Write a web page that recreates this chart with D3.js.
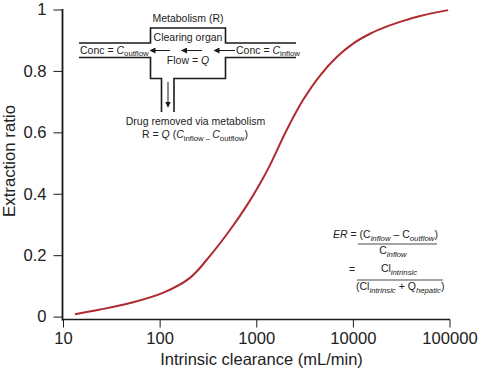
<!DOCTYPE html>
<html>
<head>
<meta charset="utf-8">
<script src="https://cdn.jsdelivr.net/npm/d3@7"></script>
<style>
body { margin: 0; background: #fff; }
svg { display: block; }
text { font-family: "Liberation Sans", Arial, sans-serif; fill: #222; }
</style>
</head>
<body>
<div id="chart"></div>
<script>
const clearance = [13.3, 24.2, 49.4, 108, 206, 332, 535, 803, 1148, 1390, 2084, 3048, 4571, 6855, 10050, 15070, 22590, 33110, 49660, 96800];
const extraction = [0.008, 0.023, 0.044, 0.077, 0.126, 0.198, 0.282, 0.363, 0.445, 0.494, 0.61, 0.705, 0.785, 0.846, 0.889, 0.921, 0.945, 0.963, 0.979, 0.998];
const xTicks = [10, 100, 1000, 10000, 100000];
const yTicks = [0, 0.2, 0.4, 0.6, 0.8, 1];

const width = 478, height = 371;
const ink = "#1a1a1a";

const svg = d3.select("#chart").append("svg")
    .attr("width", width)
    .attr("height", height);

const xScale = d3.scaleLog().domain([10, 100000]).range([63, 449.5]);
const yScale = d3.scaleLinear().domain([0, 1]).range([316.6, 9.5]);

// axes
const xAxis = svg.append("g")
    .attr("transform", "translate(0,319.5)")
    .call(d3.axisBottom(xScale).tickValues(xTicks).tickFormat(d3.format("d")).tickSize(8).tickPadding(5));
const yAxis = svg.append("g")
    .attr("transform", "translate(62.5,0)")
    .call(d3.axisLeft(yScale).tickValues(yTicks).tickFormat(d => d).tickSize(9).tickPadding(7));

[xAxis, yAxis].forEach(a => {
    a.select(".domain").remove();
    a.selectAll("line").attr("stroke", ink).attr("stroke-width", 1);
    a.selectAll("text").attr("font-size", 16.6).attr("font-family", null).attr("fill", "#222");
});

svg.append("line").attr("x1", 62.5).attr("x2", 62.5).attr("y1", 9).attr("y2", 320.5)
    .attr("stroke", ink).attr("stroke-width", 1.8);
svg.append("line").attr("x1", 62).attr("x2", 450).attr("y1", 319.5).attr("y2", 319.5)
    .attr("stroke", ink).attr("stroke-width", 1.6);

svg.append("text").attr("x", 261.5).attr("y", 365).attr("text-anchor", "middle")
    .attr("font-size", 16.5).text("Intrinsic clearance (mL/min)");
svg.append("text").attr("transform", "translate(15,161) rotate(-90)").attr("text-anchor", "middle")
    .attr("font-size", 16.8).text("Extraction ratio");

// curve
const line = d3.line()
    .x(d => xScale(d[0]))
    .y(d => yScale(d[1]))
    .curve(d3.curveCatmullRom.alpha(0.5));

svg.append("path")
    .datum(d3.zip(clearance, extraction))
    .attr("d", line)
    .attr("fill", "none")
    .attr("stroke", "#b02a30")
    .attr("stroke-width", 2);

// text with sub/italic runs: [string, italic, sub]
function richText(x, y, anchor, size, runs) {
    const t = svg.append("text").attr("x", x).attr("y", y)
        .attr("text-anchor", anchor).attr("font-size", size);
    let wasSub = false;
    runs.forEach(([s, italic, sub]) => {
        const span = t.append("tspan").text(s).attr("xml:space", "preserve");
        if (italic) span.attr("font-style", "italic");
        if (sub) span.attr("font-size", size * 0.74);
        const dy = (sub ? 2.5 : 0) - (wasSub ? 2.5 : 0);
        if (dy) span.attr("dy", dy);
        wasSub = !!sub;
    });
    return t;
}

// schematic of the clearing organ
const pipe = d3.line();
const walls = [
    [[79, 43], [150.5, 43], [150.5, 28], [225.5, 28], [225.5, 43], [296, 43]],
    [[79, 57.5], [150.5, 57.5], [150.5, 78.5], [161.5, 78.5], [161.5, 112]],
    [[174, 112], [174, 78.5], [225.5, 78.5], [225.5, 57.5], [296, 57.5]]
];
svg.selectAll(".wall").data(walls).join("path")
    .attr("class", "wall")
    .attr("d", pipe)
    .attr("fill", "none")
    .attr("stroke", ink)
    .attr("stroke-width", 1.6);

const arrowHead = svg.append("defs").append("marker")
    .attr("id", "head").attr("viewBox", "0 0 6 6").attr("refX", 5.5).attr("refY", 3)
    .attr("markerWidth", 6).attr("markerHeight", 6).attr("markerUnits", "userSpaceOnUse")
    .attr("orient", "auto");
arrowHead.append("path").attr("d", "M0,0L6,3L0,6Z").attr("fill", ink);

const arrows = [
    [170, 50.5, 150, 50.5],
    [202, 50.5, 181.5, 50.5],
    [235, 50.5, 214, 50.5],
    [168, 82, 168, 107]
];
svg.selectAll(".arrow").data(arrows).join("line")
    .attr("class", "arrow")
    .attr("x1", d => d[0]).attr("y1", d => d[1])
    .attr("x2", d => d[2]).attr("y2", d => d[3])
    .attr("stroke", ink)
    .attr("stroke-width", 1)
    .attr("marker-end", "url(#head)");

richText(188, 22, "middle", 10.5, [["Metabolism (R)"]]);
richText(188, 41, "middle", 10.5, [["Clearing organ"]]);
richText(80, 53.5, "start", 10.5, [["Conc = "], ["C", true], ["outflow", false, true]]);
richText(236, 53.5, "start", 10.5, [["Conc = "], ["C", true], ["inflow", false, true]]);
richText(188, 64, "middle", 10.5, [["Flow = "], ["Q", true]]);
richText(195.5, 125, "middle", 10.5, [["Drug removed via metabolism"]]);
richText(195, 138, "middle", 10.5, [["R = "], ["Q", true], [" ("], ["C", true], ["inflow – ", false, true], ["C", true], ["outflow", false, true], [")"]]);

// formula
richText(333, 238, "start", 10.5, [["ER", true], [" = (C"], ["inflow", true, true], [" – C"], ["outflow", true, true], [")"]]);
richText(393, 254, "middle", 10.5, [["C"], ["inflow", true, true]]);
richText(349, 273, "start", 10.5, [["="]]);
richText(399, 272, "middle", 10.5, [["Cl"], ["intrinsic", true, true]]);
richText(356, 290, "start", 10.5, [["(Cl"], ["intrinsic", true, true], [" + Q"], ["hepatic", true, true], [")"]]);

const rules = [[358, 437, 244], [357, 443, 280]];
svg.selectAll(".rule").data(rules).join("line")
    .attr("class", "rule")
    .attr("x1", d => d[0]).attr("x2", d => d[1])
    .attr("y1", d => d[2]).attr("y2", d => d[2])
    .attr("stroke", ink)
    .attr("stroke-width", 0.8);
</script>
</body>
</html>
